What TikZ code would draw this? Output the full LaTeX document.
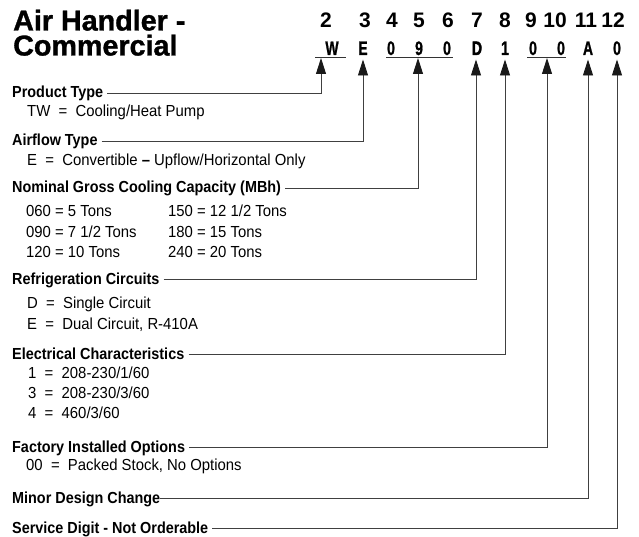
\documentclass[tikz,border=0pt]{standalone}
\usepackage{fontspec}
\setmainfont{Liberation Sans}
\newfontfamily\titlefont[FakeBold=1.2]{Liberation Sans}
\newfontfamily\headfont[FakeStretch=0.9]{Liberation Sans}
\newfontfamily\bodyfont[FakeStretch=0.93]{Liberation Sans}
\newfontfamily\codefont[FakeStretch=0.72, FakeBold=0.8]{Liberation Sans}
\newfontfamily\codeDfont[FakeStretch=0.72, FakeBold=2]{Liberation Sans}
\usetikzlibrary{arrows.meta, positioning}

\begin{document}
\begin{tikzpicture}[
    x=1pt, y=-1pt,
    % Text styles
    title/.style={anchor=base west, inner sep=0pt, align=left, font=\titlefont\bfseries\fontsize{28.7}{25}\selectfont},
    digit/.style={anchor=base, inner sep=0pt, font=\bfseries\fontsize{21}{22}\selectfont},
    code/.style={anchor=base, inner sep=0pt, font=\codefont\bfseries\fontsize{19.5}{20}\selectfont},
    head/.style={anchor=base west, inner sep=0pt, text height=11.5pt, text depth=3pt, font=\headfont\bfseries\fontsize{16}{18}\selectfont},
    item/.style={anchor=base west, inner sep=0pt, font=\bodyfont\fontsize{16}{18}\selectfont},
    % Line styles
    leader/.style={draw=black!75, line width=0.9pt, shorten <=4pt, -{Triangle[length=16pt, width=10pt, color=black!90]}},
    uline/.style={draw=black!80, line width=0.9pt}
]
\useasboundingbox (0,0) rectangle (639,537);

% -----------------------------------------------------------
% Title
% -----------------------------------------------------------
\node[title, anchor=north west] (title) at (13,9.5) {Air Handler -\\Commercial};

% -----------------------------------------------------------
% Digit positions and model code
% -----------------------------------------------------------
\node[digit] (n2) at (326,28) {2};
\node[digit] (n3) at (365,28) {3};
\node[digit] (n4) at (392,28) {4};
\node[digit] (n5) at (419,28) {5};
\node[digit] (n6) at (448,28) {6};
\node[digit] (n7) at (477,28) {7};
\node[digit] (n8) at (505,28) {8};
\node[digit] (n9) at (531,28) {9};
\node[digit] (n10) at (555,28) {10};
\node[digit] (n11) at (586,28) {11};
\node[digit] (n12) at (613,28) {12};

\node[code] (c2) at (332,55) {W};
\node[code] (c3) at (363,55) {E};
\node[code] (c4) at (391,55) {0};
\node[code] (c5) at (419,55) {9};
\node[code] (c6) at (447,55) {0};
\node[code, font=\codeDfont\bfseries\fontsize{19.5}{20}\selectfont] (c7) at (477,55) {D};
\node[code] (c8) at (505,55) {1};
\node[code] (c9) at (533,55) {0};
\node[code] (c10) at (561,55) {0};
\node[code] (c11) at (588,55) {A};
\node[code] (c12) at (617,55) {0};

% Underlines for grouped digits
\draw[uline] (315,57.5) -- (346,57.5);
\draw[uline] (386,57.5) -- (453,57.5);
\draw[uline] (527,57.5) -- (566,57.5);

% Arrow tips
\coordinate (t2) at (321,58);
\coordinate (t3) at (363,59.5);
\coordinate (t46) at (418,58);
\coordinate (t7) at (476,59.5);
\coordinate (t8) at (505,59.5);
\coordinate (t910) at (547,58);
\coordinate (t11) at (588,59.5);
\coordinate (t12) at (617,59.5);

% -----------------------------------------------------------
% Headings and values
% -----------------------------------------------------------
\node[head] (prod) at (12,97.3) {Product Type};
\node[item] (prodv) at (27,117) {TW\ \ =\ \ Cooling/Heat Pump};

\node[head] (air) at (12,146) {Airflow Type};
\node[item] (airv) at (27,166) {E\ \ =\ \ Convertible \textbf{–} Upflow/Horizontal Only};

\node[head] (cap) at (12,193) {Nominal Gross Cooling Capacity (MBh)};
\node[item] (cap1) at (26,217) {060 = 5 Tons};
\node[item] (cap2) at (26,237) {090 = 7 1/2 Tons};
\node[item] (cap3) at (26,257) {120 = 10 Tons};
\node[item] (cap4) at (168,217) {150 = 12 1/2 Tons};
\node[item] (cap5) at (168,237) {180 = 15 Tons};
\node[item] (cap6) at (168,257) {240 = 20 Tons};

\node[head] (refr) at (12,284) {Refrigeration Circuits};
\node[item] (refr1) at (27,308) {D\ \ =\ \ Single Circuit};
\node[item] (refr2) at (27,329) {E\ \ =\ \ Dual Circuit, R-410A};

\node[head] (elec) at (12,359) {Electrical Characteristics};
\node[item] (elec1) at (28,378) {1\ \ =\ \ 208-230/1/60};
\node[item] (elec2) at (28,398) {3\ \ =\ \ 208-230/3/60};
\node[item] (elec3) at (28,418) {4\ \ =\ \ 460/3/60};

\node[head] (fact) at (12,452) {Factory Installed Options};
\node[item] (fact1) at (26,470) {00\ \ =\ \ Packed Stock, No Options};

\node[head] (minor) at (12,503) {Minor Design Change};
\node[head] (serv) at (12,533) {Service Digit - Not Orderable};

% -----------------------------------------------------------
% Leaders
% -----------------------------------------------------------
\draw[leader] (prod.east) -| (t2);
\draw[leader] (air.east) -| (t3);
\draw[leader] (cap.east) -| (t46);
\draw[leader] (refr.east) -| (t7);
\draw[leader] (elec.east) -| (t8);
\draw[leader] (fact.east) -| (t910);
\draw[leader, shorten <=0pt] (minor.east) -| (t11);
\draw[leader] (serv.east) -| (t12);

\end{tikzpicture}
\end{document}
